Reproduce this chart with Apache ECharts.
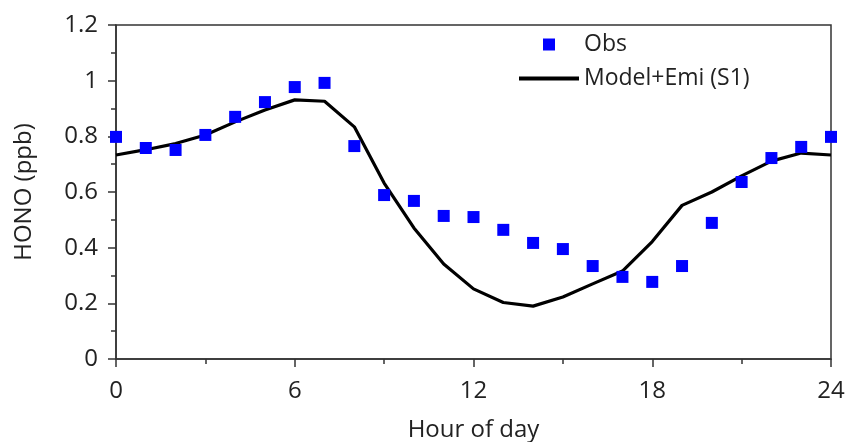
<!DOCTYPE html>
<html>
<head>
<meta charset="utf-8">
<script src="https://cdn.jsdelivr.net/npm/echarts@6/dist/echarts.min.js"></script>
<style>html,body{margin:0;padding:0;background:#fff;}#c{width:849px;height:442px;}</style>
</head>
<body>
<div id="c"></div>
<script>
const hours = [0,1,2,3,4,5,6,7,8,9,10,11,12,13,14,15,16,17,18,19,20,21,22,23,24];
const obs = [0.798,0.758,0.751,0.805,0.870,0.923,0.977,0.992,0.765,0.589,0.568,0.514,0.510,0.464,0.417,0.395,0.334,0.295,0.277,0.334,0.489,0.636,0.722,0.762,0.798];
const model = [0.733,0.752,0.774,0.805,0.852,0.895,0.931,0.926,0.834,0.632,0.471,0.341,0.252,0.203,0.190,0.223,0.270,0.316,0.422,0.552,0.600,0.658,0.711,0.740,0.733];
const xTicks = [0,6,12,18,24];
const yTicks = ['0','0.2','0.4','0.6','0.8','1','1.2'];

const FONT = '"Open Sans", sans-serif';
const axisColor = '#333';
const chart = echarts.init(document.getElementById('c'), null, {renderer:'canvas'});
chart.setOption({
  animation: false,
  backgroundColor: '#fff',
  grid: {left:116, right:18, top:25, bottom:83, show:true, borderColor:axisColor, borderWidth:1.5,
         backgroundColor:'transparent', outerBoundsMode:'none', containLabel:false},
  legend: [
    {data:['Obs'], left:543, top:33, padding:0, itemWidth:12, itemHeight:12, icon:'rect',
     textStyle:{fontFamily:FONT, fontSize:23, color:'#222', padding:[0,0,0,24]}},
    {data:['Model+Emi (S1)'], left:519, top:67, padding:0, itemWidth:60, itemHeight:4, icon:'rect',
     textStyle:{fontFamily:FONT, fontSize:23, color:'#222'}}
  ],
  xAxis: {
    type:'value', min:0, max:24, interval:6,
    name:'Hour of day', nameLocation:'middle', nameGap:59,
    nameTextStyle:{fontFamily:FONT, fontSize:24, color:'#222'},
    axisLine:{show:true, lineStyle:{color:axisColor, width:1.5}},
    axisTick:{show:true, inside:false, length:8, lineStyle:{color:axisColor, width:1.5}},
    minorTick:{show:true, splitNumber:2, length:5, lineStyle:{color:axisColor, width:1.5}},
    splitLine:{show:false},
    axisLabel:{fontFamily:FONT, fontSize:24, color:'#222', margin:20,
      formatter:(v)=> xTicks.includes(v) ? String(v) : ''}
  },
  yAxis: {
    type:'value', min:0, max:1.2, interval:0.2,
    name:'HONO (ppb)', nameLocation:'middle', nameGap:80,
    nameTextStyle:{fontFamily:FONT, fontSize:24, color:'#222'},
    axisLine:{show:true, lineStyle:{color:axisColor, width:1.5}},
    axisTick:{show:true, inside:false, length:8, lineStyle:{color:axisColor, width:1.5}},
    minorTick:{show:true, splitNumber:2, length:5, lineStyle:{color:axisColor, width:1.5}},
    splitLine:{show:false},
    axisLabel:{fontFamily:FONT, fontSize:24, color:'#222', margin:18,
      formatter:(v)=> yTicks[Math.round(v/0.2)] || ''}
  },
  series: [
    {name:'Model+Emi (S1)', type:'line', data:hours.map((h,i)=>[h, model[i]]),
     symbol:'none', lineStyle:{color:'#000', width:3.2}, itemStyle:{color:'#000'}, z:2},
    {name:'Obs', type:'scatter', data:hours.map((h,i)=>[h, obs[i]]),
     symbol:'rect', symbolSize:12, itemStyle:{color:'#0000ff', opacity:1}, z:3, clip:false}
  ]
});
</script>
</body>
</html>
